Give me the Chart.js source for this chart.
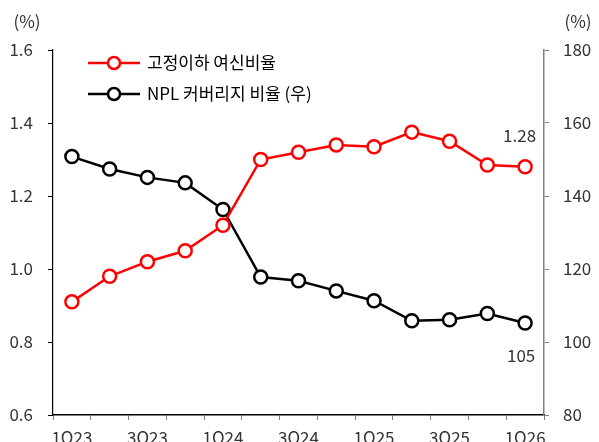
<!DOCTYPE html>
<html>
<head>
<meta charset="utf-8">
<script src="https://cdn.jsdelivr.net/npm/chart.js@4"></script>
<style>
  html, body { margin: 0; padding: 0; background: #fff; }
  #wrap { width: 599px; height: 442px; position: relative; }
</style>
</head>
<body>
<div id="wrap"><canvas id="chart" width="599" height="442"></canvas></div>
<script>
// 분기 라벨
const quarters = ["1Q23", "2Q23", "3Q23", "4Q23", "1Q24", "2Q24", "3Q24", "4Q24",
  "1Q25", "2Q25", "3Q25", "4Q25", "1Q26"];
// 고정이하 여신비율 (%, 좌축)
const nplRatio = [0.91, 0.98, 1.02, 1.05, 1.12, 1.30, 1.32, 1.34, 1.335, 1.375, 1.35, 1.285, 1.28];
// NPL 커버리지 비율 (%, 우축)
const coverage = [150.8, 147.4, 145.1, 143.6, 136.3, 117.8, 116.8, 114.0, 111.3, 105.8, 106.1, 107.8, 105.2];

const FONT = "'Noto Sans CJK KR', 'Noto Sans', sans-serif";
const TEXT = "#333333";

// 범례 + 라벨 직접 그리기
const overlay = {
  id: "overlay",
  afterDraw(chart) {
    const ctx = chart.ctx;
    ctx.save();
    ctx.font = "17px " + FONT;
    ctx.fillStyle = TEXT;
    ctx.textBaseline = "middle";
    ctx.textAlign = "center";
    ctx.fillText("(%)", 27, 22);
    ctx.fillText("(%)", 578, 22);

    // 범례
    const rows = [
      { label: "고정이하 여신비율", color: "#ff0000", y: 63 },
      { label: "NPL 커버리지 비율 (우)", color: "#000000", y: 94 },
    ];
    rows.forEach((r) => {
      ctx.strokeStyle = r.color;
      ctx.lineWidth = 2.5;
      ctx.beginPath();
      ctx.moveTo(88, r.y);
      ctx.lineTo(140, r.y);
      ctx.stroke();
      ctx.beginPath();
      ctx.arc(114, r.y, 6, 0, Math.PI * 2);
      ctx.fillStyle = "#fff";
      ctx.fill();
      ctx.stroke();
      ctx.fillStyle = "#000";
      ctx.textAlign = "left";
      ctx.fillText(r.label, 147, r.y);
    });

    // 마지막 값 라벨
    const last = quarters.length - 1;
    const p0 = chart.getDatasetMeta(0).data[last];
    const p1 = chart.getDatasetMeta(1).data[last];
    ctx.fillStyle = TEXT;
    ctx.textAlign = "right";
    ctx.fillText(nplRatio[last].toFixed(2), p0.x + 11, p0.y - 31);
    ctx.textAlign = "center";
    ctx.fillText(Math.round(coverage[last]).toString(), p1.x - 4, p1.y + 33);
    ctx.restore();
  },
};

new Chart(document.getElementById("chart"), {
  type: "line",
  data: {
    labels: quarters,
    datasets: [
      {
        label: "고정이하 여신비율",
        data: nplRatio,
        yAxisID: "y",
        borderColor: "#ff0000",
        borderWidth: 2.5,
        pointRadius: 6.5,
        pointBorderWidth: 2.5,
        pointBackgroundColor: "#ffffff",
        pointBorderColor: "#ff0000",
        tension: 0,
      },
      {
        label: "NPL 커버리지 비율 (우)",
        data: coverage,
        yAxisID: "y1",
        borderColor: "#000000",
        borderWidth: 2.5,
        pointRadius: 6.5,
        pointBorderWidth: 2.5,
        pointBackgroundColor: "#ffffff",
        pointBorderColor: "#000000",
        tension: 0,
      },
    ],
  },
  options: {
    responsive: false,
    animation: false,
    layout: { padding: { top: 50, left: 0, right: 0, bottom: 0 } },
    plugins: { legend: { display: false }, tooltip: { enabled: false } },
    scales: {
      x: {
        offset: true,
        grid: { offset: true, drawOnChartArea: false, tickLength: 5, color: "#808080" },
        border: { color: "#000000", width: 1.5 },
        ticks: {
          autoSkip: false,
          maxRotation: 0,
          padding: 7,
          color: TEXT,
          font: { family: FONT, size: 17 },
          callback: (v, i) => (i % 2 === 0 ? quarters[i] : ""),
        },
        afterFit: (s) => { s.height = 27; },
      },
      y: {
        position: "left",
        min: 0.6,
        max: 1.6,
        ticks: {
          stepSize: 0.2,
          padding: 15,
          color: TEXT,
          font: { family: FONT, size: 17 },
          callback: (v) => v.toFixed(1),
        },
        grid: { drawOnChartArea: false, tickLength: 5, color: "#000000" },
        border: { color: "#000000", width: 1.2 },
        afterFit: (s) => { s.width = 53; },
      },
      y1: {
        position: "right",
        min: 80,
        max: 180,
        ticks: {
          stepSize: 20,
          padding: 14,
          color: TEXT,
          font: { family: FONT, size: 17 },
        },
        grid: { drawOnChartArea: false, tickLength: 5, color: "#808080" },
        border: { color: "#808080", width: 1.5 },
        afterFit: (s) => { s.width = 55; },
      },
    },
  },
  plugins: [overlay],
});
</script>
</body>
</html>
